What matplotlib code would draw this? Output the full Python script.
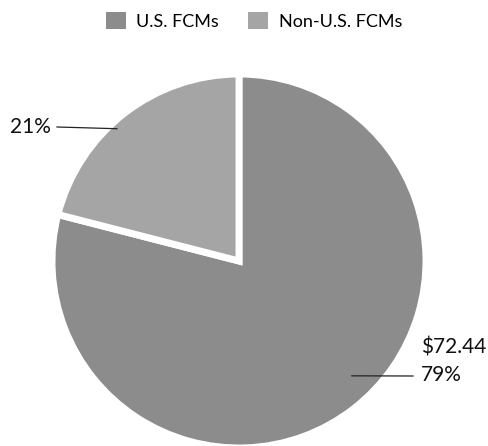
import numpy as np
import matplotlib.pyplot as plt
from matplotlib.patches import Patch

plt.rcParams['font.family'] = ['Lato', 'DejaVu Sans']

# Data
categories = ['U.S. FCMs', 'Non-U.S. FCMs']
shares = [79, 21]
dollar_labels = ['$72.44', '']
colors = ['#8c8c8c', '#a5a5a5']

W, H = 488, 446
fig = plt.figure(figsize=(W / 100, H / 100), dpi=100)
ax = fig.add_axes([0, 0, 1, 1])

cx, cy, r = 239, H - 261, 187
wedges, _ = ax.pie(shares, colors=colors, startangle=90 - shares[0] * 3.6,
                   counterclock=True, center=(cx, cy), radius=r,
                   wedgeprops=dict(edgecolor='white', linewidth=5))

# pie() resets the limits, so set them afterwards
ax.set_xlim(0, W)
ax.set_ylim(0, H)
ax.set_aspect('equal')
ax.axis('off')

def pt(angle_deg, rr):
    a = np.deg2rad(angle_deg)
    return cx + rr * np.cos(a), cy + rr * np.sin(a)

# Non-U.S. label
x0, y0 = pt(132.7, 180)
ax.plot([x0, 57], [y0, H - 127], color='#222222', lw=0.9)
ax.text(51, H - 127, f'{shares[1]}%', ha='right', va='center', fontsize=15, color='#111111')

# U.S. label
x1, y1 = pt(-45.5, 161)
ax.plot([x1, 413], [y1, H - 376], color='#222222', lw=0.9)
ax.text(421, H - 375, f'{shares[0]}%', ha='left', va='center', fontsize=15, color='#111111')
ax.text(421, H - 347, dollar_labels[0], ha='left', va='center', fontsize=15, color='#111111')

handles = [Patch(facecolor=c, edgecolor='none') for c in colors]
fig.legend(handles, categories, loc='upper center', bbox_to_anchor=(0.5 + 10 / W, 1.01), ncol=2,
           frameon=False, fontsize=13, handlelength=1.1, handleheight=1.1,
           columnspacing=1.6, handletextpad=0.6)

fig.savefig('out.png', dpi=100)
